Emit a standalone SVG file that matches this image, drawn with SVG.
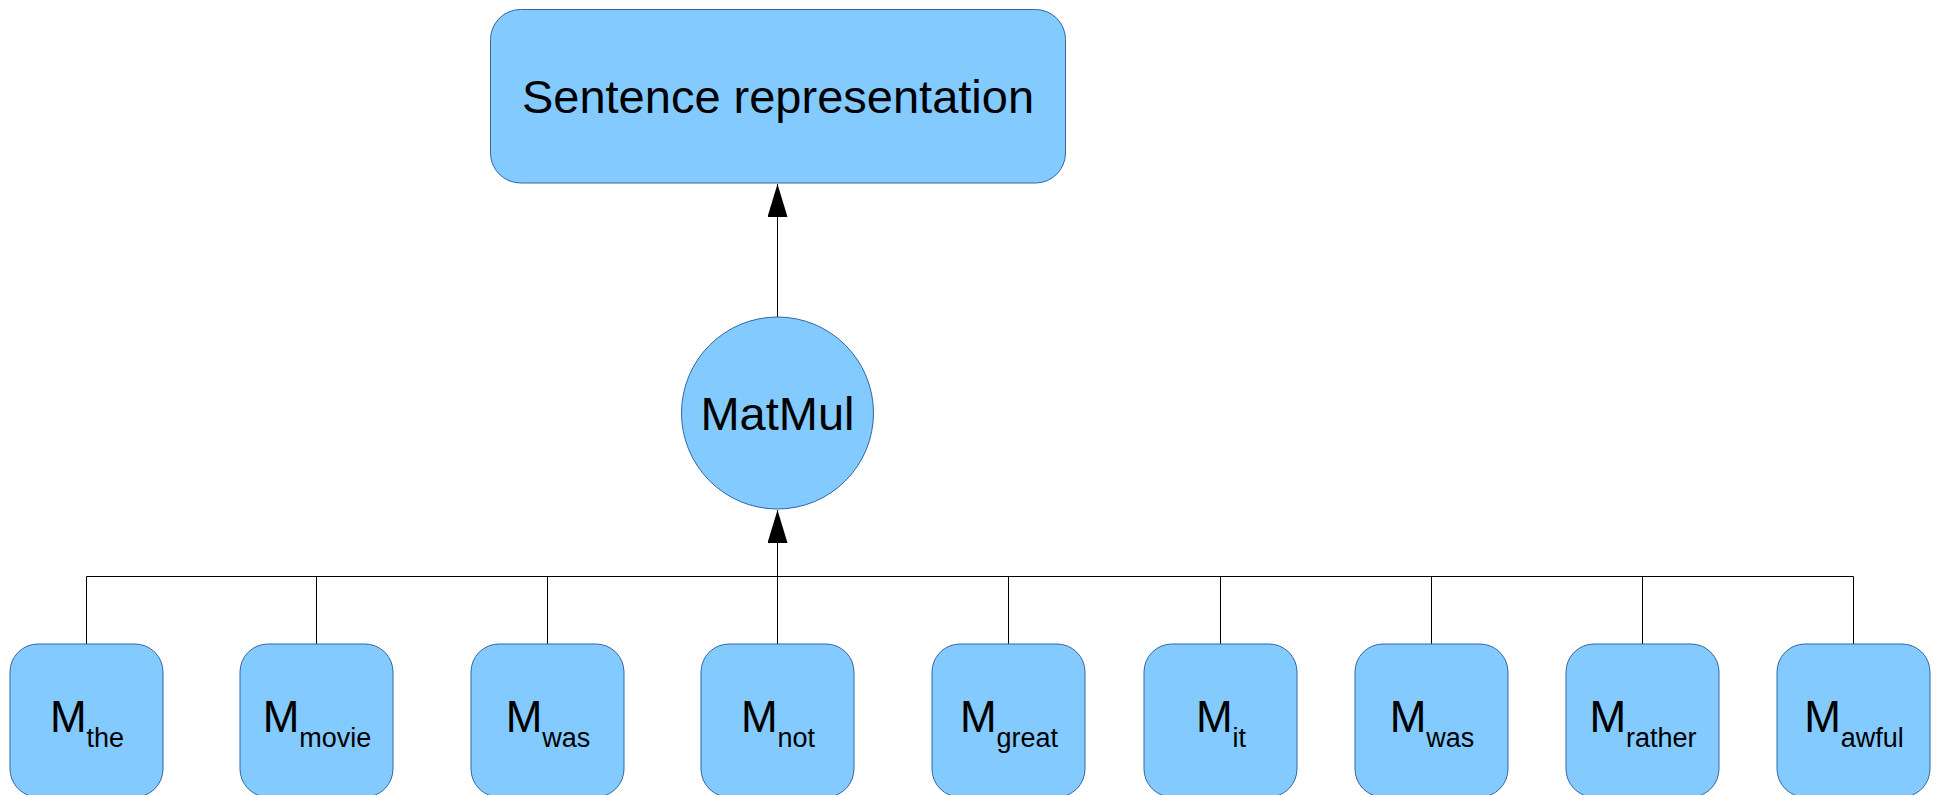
<svg xmlns="http://www.w3.org/2000/svg" width="1938" height="795" viewBox="0 0 1938 795">
<style>
.n{fill:#83caff;stroke:#3465a4;stroke-width:1}
.t{font-family:"Liberation Sans",Arial,sans-serif;fill:#000;text-anchor:middle}
.big{font-size:47px}
.m{font-size:44px}
.s{font-size:27px}
.c{stroke:#000;stroke-width:1;fill:none}
</style>
<defs>
<marker id="ah" markerUnits="userSpaceOnUse" markerWidth="34" markerHeight="21" viewBox="0 0 34 21" refX="33" refY="10" orient="auto">
<path d="M0,0 L33,10 L0,20 z" fill="#000"/>
</marker>
</defs>
<rect width="1938" height="795" fill="#fff"/>
<g id="connectors">
<line class="c" x1="777.5" y1="317" x2="777.5" y2="184" marker-end="url(#ah)"/>
<line class="c" x1="777.5" y1="576.5" x2="777.5" y2="510" marker-end="url(#ah)"/>
<line class="c" x1="86.5" y1="576.5" x2="1853.5" y2="576.5"/>
<path class="c" d="M86.5,576.5V644M316.5,576.5V644M547.5,576.5V644M777.5,576.5V644M1008.5,576.5V644M1220.5,576.5V644M1431.5,576.5V644M1642.5,576.5V644M1853.5,576.5V644"/>
</g>
<g id="sentence">
<rect class="n" x="490.5" y="9.5" width="575" height="173.5" rx="30"/>
<text class="t big" x="778" y="113">Sentence representation</text>
</g>
<g id="matmul">
<circle class="n" cx="777.5" cy="413" r="96"/>
<text class="t big" x="777.5" y="430">MatMul</text>
</g>
<g id="m_the"><rect class="n" x="10" y="644" width="153" height="153" rx="28"/><text class="t" x="87" y="732"><tspan class="m">M</tspan><tspan class="s" dy="15">the</tspan></text></g>
<g id="m_movie"><rect class="n" x="240" y="644" width="153" height="153" rx="28"/><text class="t" x="317" y="732"><tspan class="m">M</tspan><tspan class="s" dy="15">movie</tspan></text></g>
<g id="m_was1"><rect class="n" x="471" y="644" width="153" height="153" rx="28"/><text class="t" x="548" y="732"><tspan class="m">M</tspan><tspan class="s" dy="15">was</tspan></text></g>
<g id="m_not"><rect class="n" x="701" y="644" width="153" height="153" rx="28"/><text class="t" x="778" y="732"><tspan class="m">M</tspan><tspan class="s" dy="15">not</tspan></text></g>
<g id="m_great"><rect class="n" x="932" y="644" width="153" height="153" rx="28"/><text class="t" x="1009" y="732"><tspan class="m">M</tspan><tspan class="s" dy="15">great</tspan></text></g>
<g id="m_it"><rect class="n" x="1144" y="644" width="153" height="153" rx="28"/><text class="t" x="1221" y="732"><tspan class="m">M</tspan><tspan class="s" dy="15">it</tspan></text></g>
<g id="m_was2"><rect class="n" x="1355" y="644" width="153" height="153" rx="28"/><text class="t" x="1432" y="732"><tspan class="m">M</tspan><tspan class="s" dy="15">was</tspan></text></g>
<g id="m_rather"><rect class="n" x="1566" y="644" width="153" height="153" rx="28"/><text class="t" x="1643" y="732"><tspan class="m">M</tspan><tspan class="s" dy="15">rather</tspan></text></g>
<g id="m_awful"><rect class="n" x="1777" y="644" width="153" height="153" rx="28"/><text class="t" x="1854" y="732"><tspan class="m">M</tspan><tspan class="s" dy="15">awful</tspan></text></g>
</svg>
